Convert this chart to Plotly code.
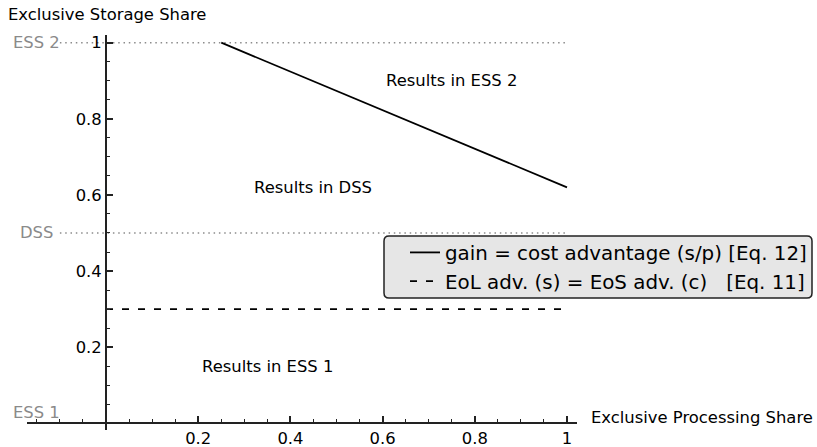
import plotly.graph_objects as go

# ---------------- data ----------------
gain_x = [0.25, 1.0]
gain_y = [1.0, 0.62]
eol_x = [0.0, 1.0]
eol_y = [0.3, 0.3]

state_labels = ["ESS 1", "DSS", "ESS 2"]
state_levels = [0.0, 0.5, 1.0]
state_line_x = [-0.1, 1.0]

region_labels = ["Results in ESS 2", "Results in DSS", "Results in ESS 1"]
region_x = [0.75, 0.45, 0.35]
region_y = [0.9, 0.62, 0.15]

tick_vals = [0.2, 0.4, 0.6, 0.8, 1.0]
tick_text = ["0.2", "0.4", "0.6", "0.8", "1"]

legend_names = ["gain = cost advantage (s/p) [Eq. 12]",
                "EoL adv. (s) = EoS adv. (c) \u00a0\u00a0[Eq. 11]"]

x_title = "Exclusive Processing Share"
y_title = "Exclusive Storage Share"

# ---------------- layout constants ----------------
W, H = 817, 447
ML, MR, MT, MB = 27, 240, 35, 17
XR = [-0.1714, 1.0217]
YR = [-0.0176, 1.0202]
FONT = "DejaVu Sans"
FS = 16.4
AX = "#222222"
GREY = "#8a8a8a"

pw = W - ML - MR
ph = H - MT - MB


def pxx(p):
    return (p - ML) / pw


def pxy(p):
    return (H - MB - p) / ph


fig = go.Figure()

# dotted reference levels
for lvl in state_levels:
    fig.add_trace(go.Scatter(
        x=state_line_x, y=[lvl, lvl], mode="lines",
        line=dict(color="#8c8c8c", width=1.5, dash="1.5px,3.8px"),
        showlegend=False, hoverinfo="skip"))

fig.add_trace(go.Scatter(
    x=gain_x, y=gain_y, mode="lines", name=legend_names[0],
    line=dict(color="black", width=1.8)))
fig.add_trace(go.Scatter(
    x=eol_x, y=eol_y, mode="lines", name=legend_names[1],
    line=dict(color="black", width=1.8, dash="7px,9px")))

annotations = []
for t, xv, yv in zip(region_labels, region_x, region_y):
    annotations.append(dict(x=xv, y=yv, xref="x", yref="y", text=t,
                            showarrow=False, xanchor="center", yanchor="middle",
                            font=dict(family=FONT, size=FS, color="black")))
for t, lvl in zip(state_labels, state_levels):
    annotations.append(dict(x=-0.15, y=lvl, xref="x", yref="y", text=t,
                            showarrow=False, xanchor="center", yanchor="middle",
                            yshift=11 if lvl == 0 else 0,
                            font=dict(family=FONT, size=FS, color=GREY)))
annotations.append(dict(x=pxx(6), y=pxy(14.5), xref="paper", yref="paper",
                        text=y_title, showarrow=False, xanchor="left",
                        yanchor="middle",
                        font=dict(family=FONT, size=FS, color="black")))
annotations.append(dict(x=pxx(589), y=pxy(417.5), xref="paper", yref="paper",
                        text=x_title, showarrow=False, xanchor="left",
                        yanchor="middle",
                        font=dict(family=FONT, size=FS, color="black")))

# rounded legend box
bx0, bx1, by0, by1 = pxx(384), pxx(812), pxy(298), pxy(236)
rx, ry = 5 / pw, 5 / ph
path = (f"M {bx0+rx},{by0} L {bx1-rx},{by0} Q {bx1},{by0} {bx1},{by0+ry} "
        f"L {bx1},{by1-ry} Q {bx1},{by1} {bx1-rx},{by1} "
        f"L {bx0+rx},{by1} Q {bx0},{by1} {bx0},{by1-ry} "
        f"L {bx0},{by0+ry} Q {bx0},{by0} {bx0+rx},{by0} Z")

axis_common = dict(
    showline=True, linecolor=AX, linewidth=2,
    ticks="inside", ticklen=6, tickwidth=1.5, tickcolor=AX,
    showgrid=False, zeroline=False,
    tickmode="array", tickvals=tick_vals, ticktext=tick_text,
    tickfont=dict(family=FONT, size=FS, color="black"),
    minor=dict(tickmode="linear", tick0=0, dtick=0.05, ticks="inside",
               ticklen=3, tickwidth=1, tickcolor=AX, showgrid=False),
    fixedrange=True, automargin=False,
)

fig.update_layout(
    width=W, height=H, autosize=False,
    margin=dict(l=ML, r=MR, t=MT, b=MB, pad=0, autoexpand=False),
    paper_bgcolor="white", plot_bgcolor="white",
    font=dict(family=FONT, size=FS, color="black"),
    xaxis=dict(range=XR, anchor="free",
               position=(0 - YR[0]) / (YR[1] - YR[0]), **axis_common),
    yaxis=dict(range=YR, anchor="free",
               position=(0 - XR[0]) / (XR[1] - XR[0]), **axis_common),
    showlegend=True,
    legend=dict(x=pxx(405), y=pxy(233), xanchor="left", yanchor="top",
                bgcolor="rgba(0,0,0,0)", borderwidth=0,
                font=dict(family=FONT, size=19.85, color="black"),
                itemwidth=30, tracegroupgap=0),
    annotations=annotations,
    shapes=[dict(type="path", path=path, xref="paper", yref="paper",
                 fillcolor="#e6e6e6", line=dict(color="#222222", width=1.5),
                 layer="below")],
)

fig.write_html(
    "out.html",
    config={"displayModeBar": False},
    post_script="document.body.style.margin='0';"
                "document.body.style.overflow='hidden';",
)
